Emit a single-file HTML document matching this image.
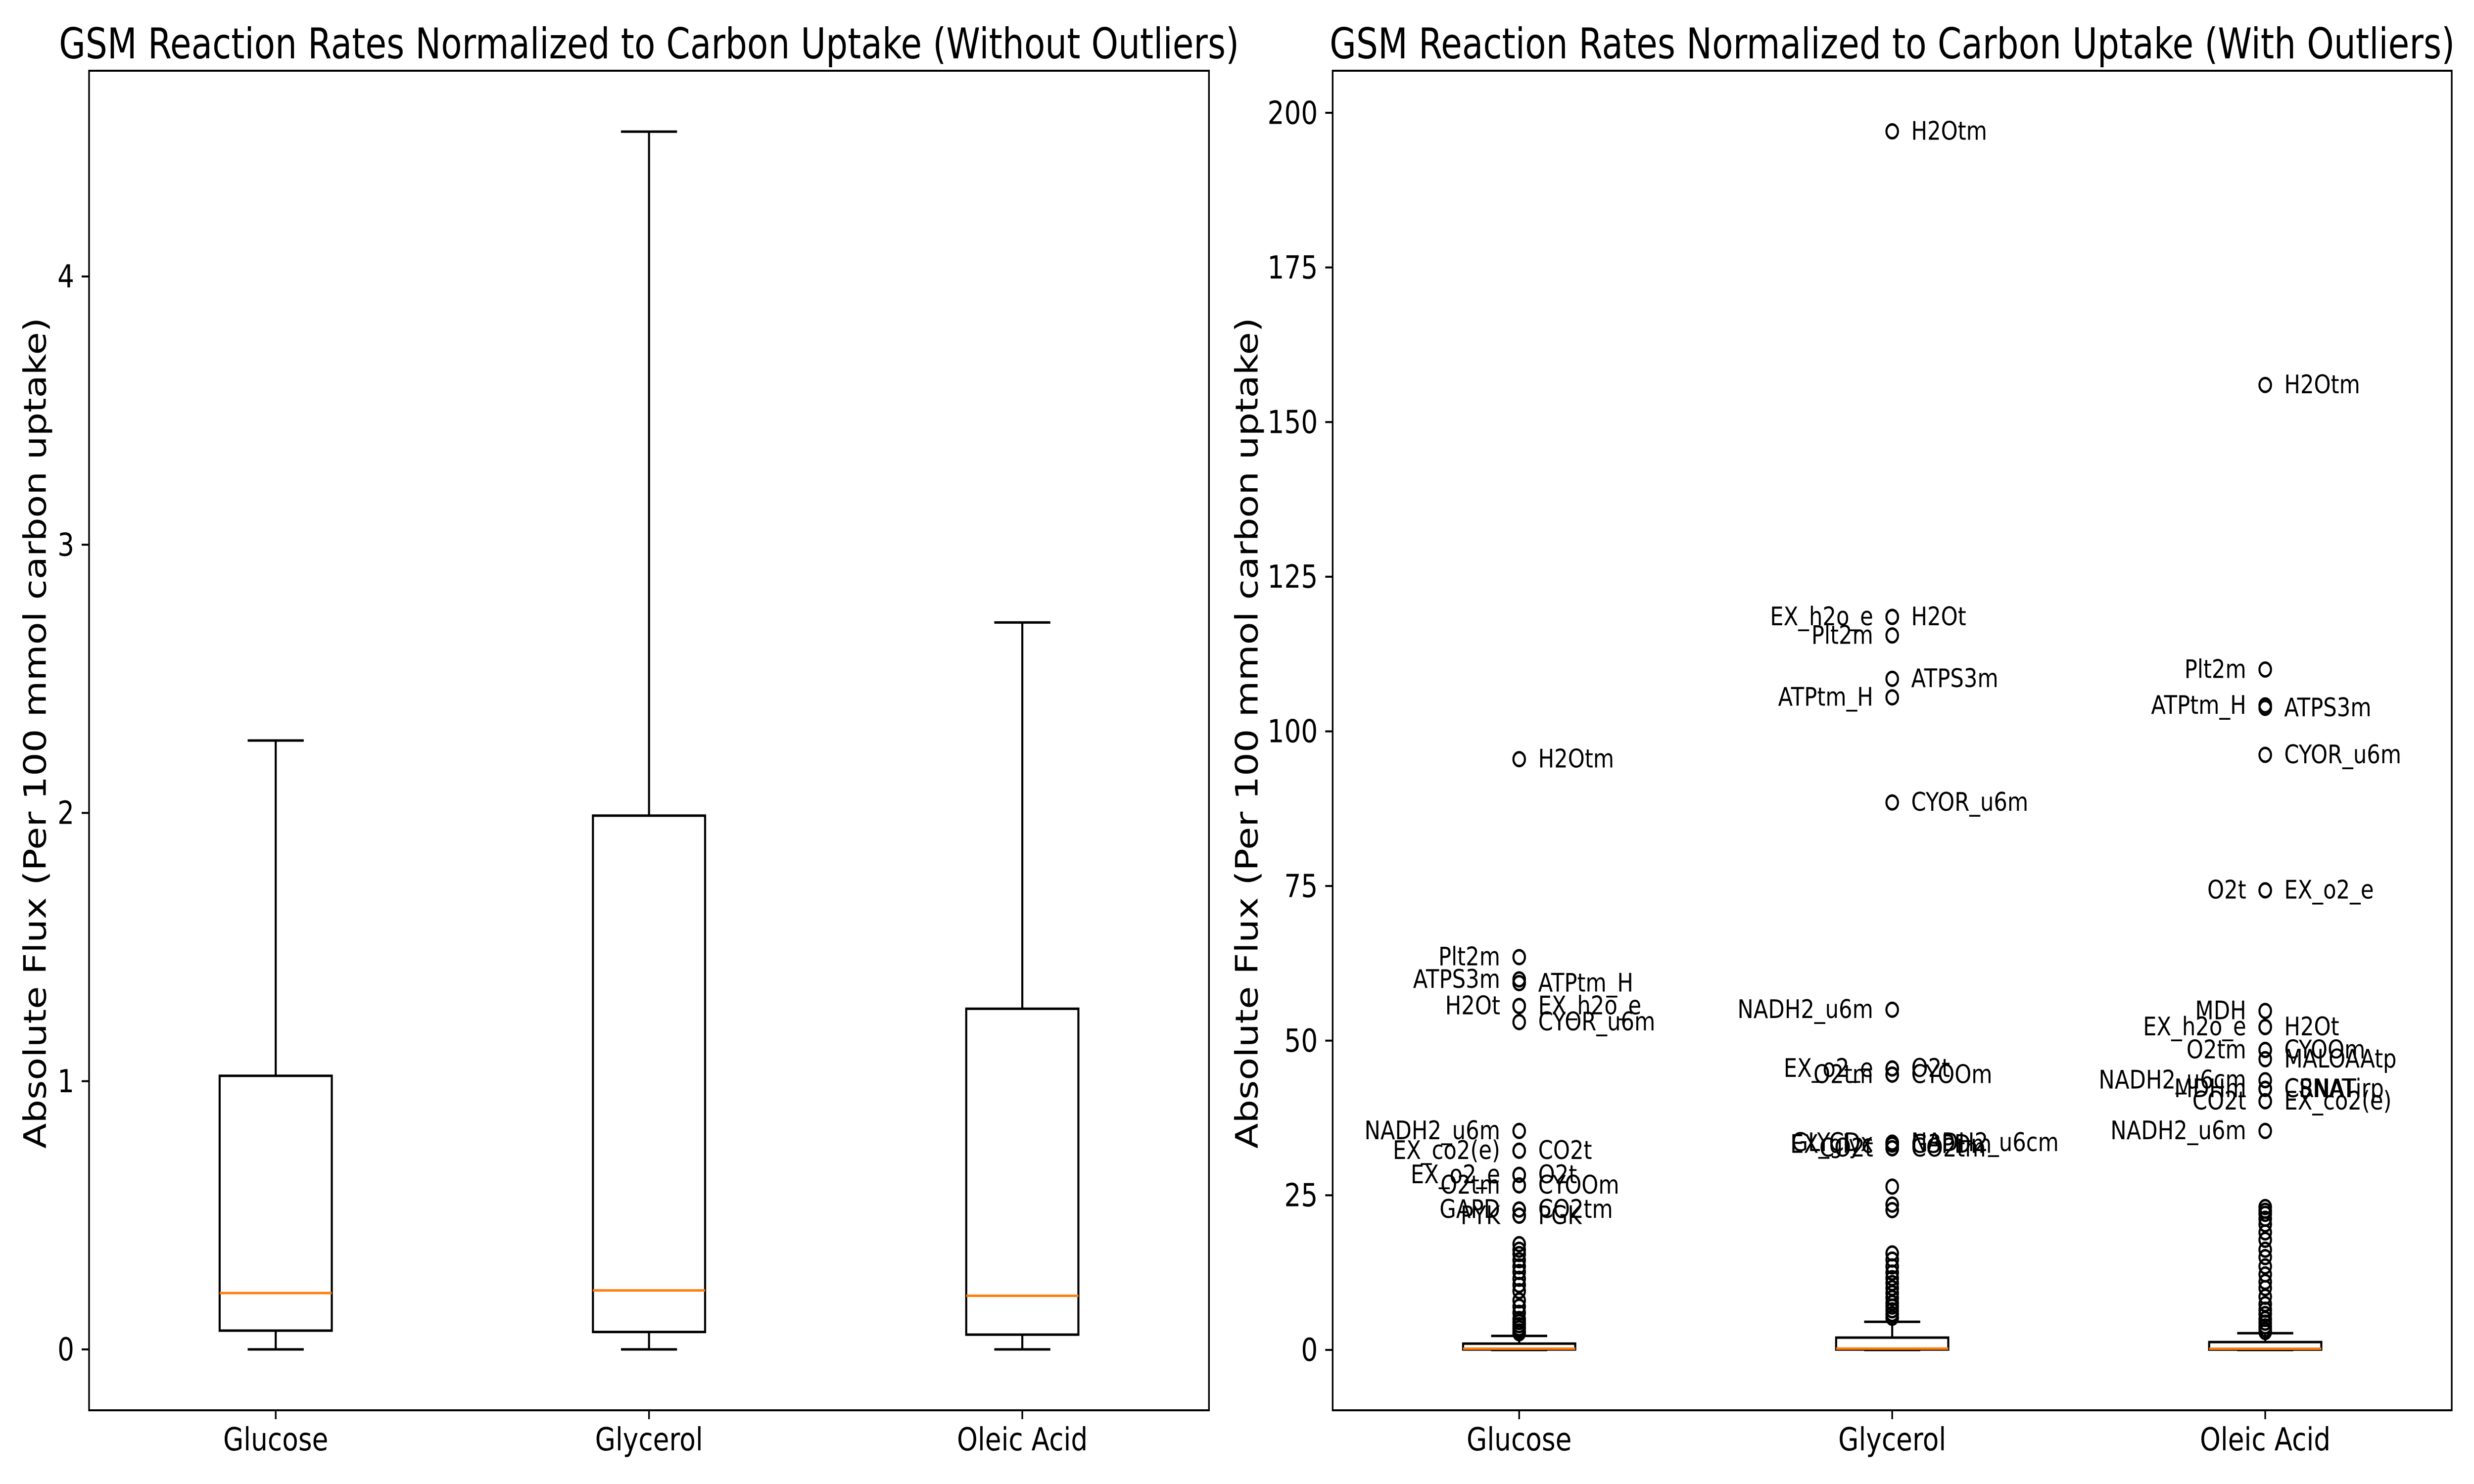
<!DOCTYPE html>
<html><head><meta charset="utf-8"><style>
html,body{margin:0;padding:0;background:#fff;overflow:hidden;width:100%;height:100%}
svg{display:block;font-family:"DejaVu Sans","Liberation Sans",sans-serif;width:100vw;height:100vh}
</style></head><body>
<svg id="chart" viewBox="0 0 6000 3000" preserveAspectRatio="none" xmlns="http://www.w3.org/2000/svg">
<rect width="6000" height="3000" fill="#fff"/>
</svg>
<script>
const categories = ["Glucose","Glycerol","Oleic Acid"];
const whiskerLow = [0,0,0];
const q1 = [0.07,0.065,0.055];
const median = [0.21,0.22,0.20];
const q3 = [1.02,1.99,1.27];
const whiskerHigh = [2.27,4.54,2.71];
const leftTicks = [0,1,2,3,4];
const rightTicks = [0,25,50,75,100,125,150,175,200];

const glucoseLabeledNames = ["H2Otm","Plt2m","ATPS3m","ATPtm_H","H2Ot","EX_h2o_e","CYOR_u6m","NADH2_u6m","EX_co2(e)","CO2t","EX_o2_e","O2t","O2tm","CYOOm","GAPD","CO2tm","PYK","PGK"];
const glucoseLabeledValues = [95.5,63.5,59.9,59.3,55.6,55.6,53.0,35.4,32.2,32.2,28.3,28.3,26.6,26.6,22.7,22.7,21.7,21.7];
const glucoseLabeledSides = ["r","l","l","r","l","r","r","l","l","r","l","r","l","r","l","r","l","r"];
const glucoseOther = [17.1,16.2,15.5,14.5,13.5,12.6,11.5,10.5,9.5,8.0,7.0,6.0,5.0,4.5,4.0,3.5,3.0,2.7];

const glycerolLabeledNames = ["H2Otm","EX_h2o_e","H2Ot","Plt2m","ATPS3m","ATPtm_H","CYOR_u6m","NADH2_u6m","EX_o2_e","O2t","O2tm","CYOOm","GLYCDx","NADH2_u6cm","EX_glyc","G3PDm","CO2t","CO2tm"];
const glycerolLabeledValues = [197.0,118.5,118.5,115.5,108.5,105.5,88.5,55.0,45.5,45.5,44.5,44.5,33.5,33.5,33.2,33.2,32.6,32.6];
const glycerolLabeledSides = ["r","l","r","l","r","l","r","l","l","r","l","r","l","r","l","r","l","r"];
const glycerolOther = [26.4,23.5,22.6,15.6,14.6,13.5,12.5,11.6,10.8,10.0,9.2,8.4,7.6,7.0,6.4,5.8,5.2];

const oleicLabeledNames = ["H2Otm","Plt2m","ATPtm_H","ATPS3m","CYOR_u6m","O2t","EX_o2_e","MDH","EX_h2o_e","H2Ot","O2tm","CYOOm","MALOAAtp","NADH2_u6cm","MDHm","CSNAT","CRNATirp","CO2t","EX_co2(e)","NADH2_u6m"];
const oleicLabeledValues = [156.0,110.0,104.2,103.8,96.2,74.3,74.3,54.8,52.2,52.2,48.5,48.5,47.0,43.6,42.2,42.2,42.2,40.2,40.2,35.4];
const oleicLabeledSides = ["r","l","l","r","r","l","r","l","l","r","l","r","r","l","l","r","r","l","r","l"];
const oleicOther = [23.1,22.5,22.0,21.2,20.3,19.0,17.8,16.2,15.0,13.5,12.2,11.0,10.0,8.6,7.4,6.5,5.8,5.0,4.4,3.8,3.3,2.9];

const SVGNS = "http://www.w3.org/2000/svg";
const svg = document.getElementById("chart");
function mk(tag, attrs, parent){
  const e = document.createElementNS(SVGNS, tag);
  for (const k in attrs) e.setAttribute(k, attrs[k]);
  (parent||svg).appendChild(e);
  return e;
}
function scale(d0,d1,r0,r1){ return v => r0 + (v-d0)/(d1-d0)*(r1-r0); }

const TOP=143, BOT=2851;
function drawPanel(x0, x1, yDom, ticks, title, titleLen, withOutliers, panelName){
  const g = mk("g", {});
  
  
  const xs = scale(0.5, 3.5, x0, x1);
  const ys = scale(yDom[0], yDom[1], BOT, TOP);
  ticks.forEach(t => {
    const y = ys(t);
    const l = mk("line", {x1:x0-18, x2:x0, y1:y, y2:y, stroke:"#000", "stroke-width":4}, g);
    
    
    const tx = mk("text", {x:x0-36, y:y, "text-anchor":"end", "dominant-baseline":"central", "font-size":64}, g);
    
    
    tx.textContent = String(t);
  });
  categories.forEach((c, i) => {
    const cx = xs(i+1);
    const bw = 136;
    const cw = 68;
    const bg = mk("g", {}, g);
    
    
    mk("line", {x1:cx, x2:cx, y1:ys(q3[i]), y2:ys(whiskerHigh[i]), stroke:"#000","stroke-width":5}, bg);
    mk("line", {x1:cx, x2:cx, y1:ys(q1[i]), y2:ys(whiskerLow[i]), stroke:"#000","stroke-width":5}, bg);
    mk("line", {x1:cx-cw, x2:cx+cw, y1:ys(whiskerHigh[i]), y2:ys(whiskerHigh[i]), stroke:"#000","stroke-width":5}, bg);
    mk("line", {x1:cx-cw, x2:cx+cw, y1:ys(whiskerLow[i]), y2:ys(whiskerLow[i]), stroke:"#000","stroke-width":5}, bg);
    mk("rect", {x:cx-bw, y:ys(q3[i]), width:2*bw, height:ys(q1[i])-ys(q3[i]), fill:"none", stroke:"#000","stroke-width":5}, bg);
    mk("line", {x1:cx-bw, x2:cx+bw, y1:ys(median[i]), y2:ys(median[i]), stroke:"#ff7f0e","stroke-width":5}, bg);
    const xt = mk("line", {x1:cx, x2:cx, y1:BOT, y2:BOT+18, stroke:"#000","stroke-width":4}, g);
    
    
    const xl = mk("text", {x:cx, y:2932, "text-anchor":"middle", "font-size":64}, g);
    
    
    xl.textContent = c;
  });
  if (withOutliers){
    const sets = [
      [glucoseLabeledNames, glucoseLabeledValues, glucoseLabeledSides, glucoseOther],
      [glycerolLabeledNames, glycerolLabeledValues, glycerolLabeledSides, glycerolOther],
      [oleicLabeledNames, oleicLabeledValues, oleicLabeledSides, oleicOther]
    ];
    sets.forEach((s, i) => {
      const cx = xs(i+1);
      s[3].forEach(v => {
        const c = mk("circle", {cx:cx, cy:ys(v), r:14, fill:"none", stroke:"#000","stroke-width":5}, g);
        
        
      });
      s[1].forEach((v, k) => {
        const c = mk("circle", {cx:cx, cy:ys(v), r:14, fill:"none", stroke:"#000","stroke-width":5}, g);
        
        
        const right = s[2][k] === "r";
        const t = mk("text", {x: right ? cx+46 : cx-46, y: ys(v), "text-anchor": right ? "start" : "end", "dominant-baseline":"central", "font-size":52}, g);
        
        
        t.textContent = s[0][k];
      });
    });
  }
  const fr = mk("rect", {x:x0, y:TOP, width:x1-x0, height:BOT-TOP, fill:"none", stroke:"#000","stroke-width":4}, g);
  
  
  const tt = mk("text", {x:(x0+x1)/2, y:118, "text-anchor":"middle", "font-size":86, textLength:titleLen, lengthAdjust:"spacingAndGlyphs"}, g);
  
  
  tt.textContent = title;
  const yl = mk("text", {x:0, y:0, "text-anchor":"middle", "dominant-baseline":"central", "font-size":75, textLength:1680, lengthAdjust:"spacingAndGlyphs", transform:`translate(${withOutliers?3025:86},${(TOP+BOT)/2-15}) rotate(-90)`}, g);
  
  
  yl.textContent = "Absolute Flux (Per 100 mmol carbon uptake)";
}
drawPanel(216, 2932, [-0.227, 4.767], leftTicks, "GSM Reaction Rates Normalized to Carbon Uptake (Without Outliers)", 2862, false, "left-panel-without-outliers");
drawPanel(3232, 5946, [-9.76, 206.8], rightTicks, "GSM Reaction Rates Normalized to Carbon Uptake (With Outliers)", 2729, true, "right-panel-with-outliers");
</script>
</body></html>
